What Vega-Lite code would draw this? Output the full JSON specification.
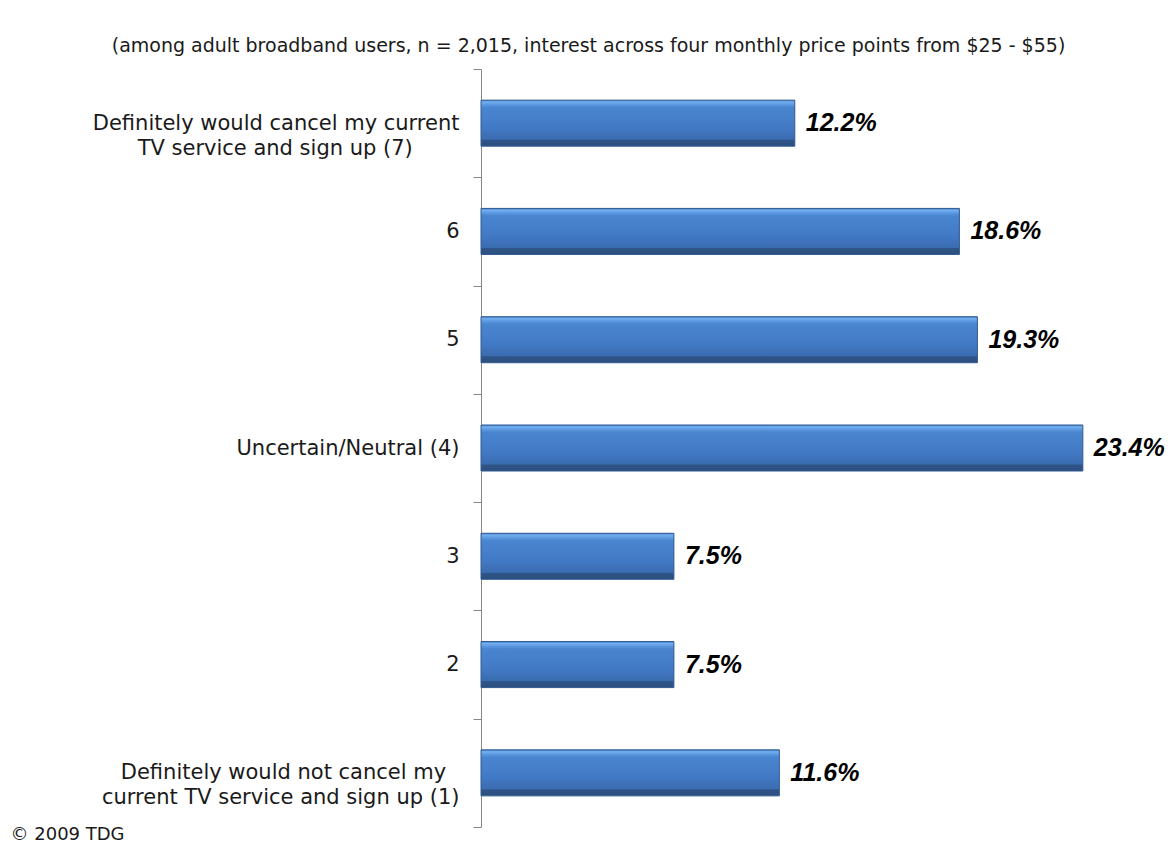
{
  "$schema": "https://vega.github.io/schema/vega-lite/v6.json",
  "autosize": {"type": "none"},
  "padding": {"left": 481, "top": 69, "right": 49, "bottom": 25},
  "width": 643,
  "height": 758,
  "background": "white",
  "title": {
    "text": "(among adult broadband users, n = 2,015, interest across four monthly price points from $25 - $55)",
    "font": "DejaVu Sans",
    "fontSize": 19,
    "fontWeight": "normal",
    "color": "#1a1a1a",
    "anchor": "middle",
    "dx": -214,
    "offset": 2
  },
  "config": {"view": {"stroke": null}},
  "data": {
    "values": [
      {"category": "Definitely would cancel my current|TV service and sign up (7)\u00a0\u00a0\u00a0\u00a0\u00a0\u00a0\u00a0\u200b", "share": 0.122},
      {"category": "6", "share": 0.186},
      {"category": "5", "share": 0.193},
      {"category": "Uncertain/Neutral (4)", "share": 0.234},
      {"category": "3", "share": 0.075},
      {"category": "2", "share": 0.075},
      {"category": "Definitely would not cancel my\u00a0\u00a0\u200b|current TV service and sign up (1)", "share": 0.116}
    ]
  },
  "encoding": {
    "y": {
      "field": "category",
      "type": "nominal",
      "sort": null,
      "scale": {"paddingInner": 0, "paddingOuter": 0},
      "axis": {
        "title": null,
        "labelExpr": "split(datum.label, '|')",
        "labelFont": "DejaVu Sans",
        "labelFontSize": 21,
        "labelColor": "#1a1a1a",
        "labelLineHeight": 25,
        "labelLimit": 500,
        "labelPadding": 14,
        "labelAlign": "right",
        "tickBand": "extent",
        "tickSize": 8,
        "tickColor": "#868686",
        "domainColor": "#868686",
        "domainWidth": 1,
        "grid": false
      }
    },
    "x": {
      "field": "share",
      "type": "quantitative",
      "scale": {"domain": [0, 0.25], "nice": false},
      "axis": {
        "domain": false,
        "ticks": false,
        "labels": false,
        "grid": false,
        "title": "© 2009 TDG",
        "titleFont": "DejaVu Sans",
        "titleFontSize": 18,
        "titleFontWeight": "normal",
        "titleColor": "#1a1a1a",
        "titleAlign": "left",
        "titleBaseline": "middle",
        "titleX": -471,
        "titleY": 7
      }
    }
  },
  "layer": [
    {
      "mark": {
        "type": "bar",
        "height": {"band": 0.425},
        "stroke": "#2f5a90",
        "strokeWidth": 1,
        "color": {
          "gradient": "linear",
          "x1": 0, "y1": 0, "x2": 0, "y2": 1,
          "stops": [
            {"offset": 0, "color": "#3f7cc8"},
            {"offset": 0.04, "color": "#74afef"},
            {"offset": 0.1, "color": "#5c98e0"},
            {"offset": 0.16, "color": "#4a85d0"},
            {"offset": 0.6, "color": "#4279c4"},
            {"offset": 0.85, "color": "#3a6cb0"},
            {"offset": 0.87, "color": "#2f5488"},
            {"offset": 1, "color": "#2d4f7e"}
          ]
        }
      }
    },
    {
      "mark": {
        "type": "text",
        "align": "left",
        "baseline": "middle",
        "dx": 11,
        "font": "Liberation Sans",
        "fontSize": 25,
        "fontWeight": "bold",
        "fontStyle": "italic",
        "color": "#000000"
      },
      "encoding": {
        "text": {"field": "share", "type": "quantitative", "format": ".1%"}
      }
    }
  ]
}
